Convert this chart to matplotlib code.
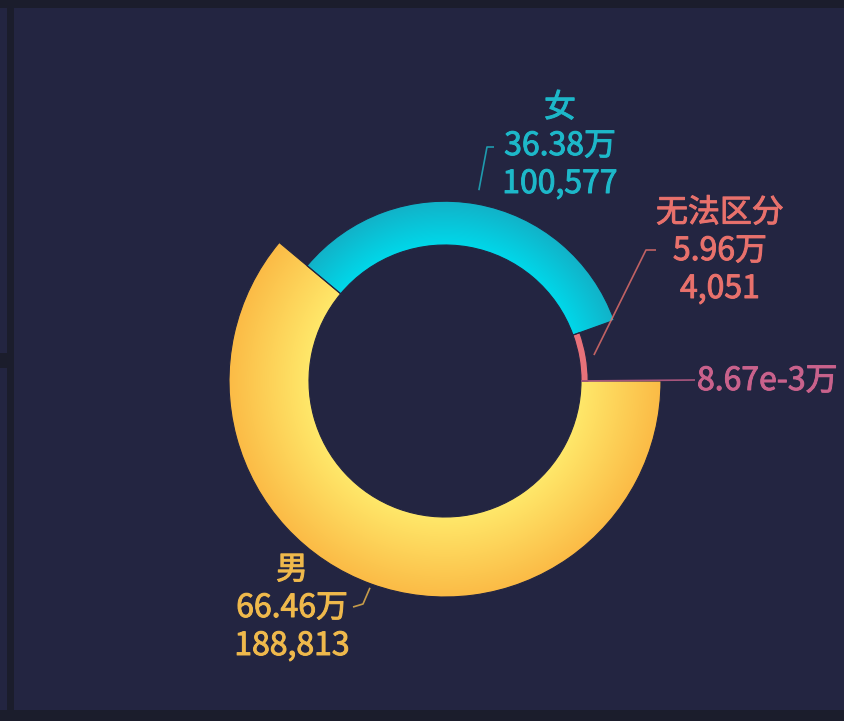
import numpy as np
import matplotlib
matplotlib.use("Agg")
import matplotlib.pyplot as plt
from matplotlib.patches import Wedge, Rectangle
import matplotlib.patheffects as pe

plt.rcParams['font.family'] = ['Noto Sans CJK SC', 'DejaVu Sans']

# ---- data ----
categories = ["", "无法区分", "女", "男"]
values_wan = [8.67e-3, 5.96, 36.38, 66.46]          # 万
counts = [None, 4051, 100577, 188813]
value_labels = ["8.67e-3万", "5.96万", "36.38万", "66.46万"]

# ---- style ----
W, H = 845, 721
bg_outer = "#1b1d2c"
bg_panel = "#232541"
inner_cols = ["#e8727a", "#e8727a", "#00d8ea", "#ffe86a"]
outer_cols = ["#e8727a", "#e8727a", "#12b2c8", "#fbbb46"]
text_cols = ["#c9628c", "#e8716c", "#1db8c9", "#efb94c"]

fig = plt.figure(figsize=(W / 100, H / 100), dpi=100)
fig.patch.set_facecolor(bg_outer)
ax = fig.add_axes([0, 0, 1, 1])
ax.set_xlim(0, W)
ax.set_ylim(0, H)
ax.axis("off")

def Y(py):
    return H - py

# background panels
ax.add_patch(Rectangle((14, Y(710)), W - 14, 702, facecolor=bg_panel, edgecolor="none", zorder=0))
ax.add_patch(Rectangle((0, Y(353)), 7, 353 - 8, facecolor=bg_panel, edgecolor="none", zorder=0))
ax.add_patch(Rectangle((0, Y(710)), 7, 710 - 368, facecolor=bg_panel, edgecolor="none", zorder=0))

cx, cy = 445, Y(381)
r_in, r_max = 136, 216
total = sum(values_wan)
vmax = max(values_wan)

angles = []
a = 0.0
for v in values_wan:
    span = v / total * 360.0
    angles.append((a, a + span))
    a += span

radii = [r_in + (r_max - r_in) * v / vmax for v in values_wan]

def hex2rgb(h):
    h = h.lstrip("#")
    return np.array([int(h[i:i + 2], 16) / 255 for i in (0, 2, 4)])

for i, v in enumerate(values_wan):
    a1, a2 = angles[i]
    R = max(radii[i], r_in + 0.8)
    w = Wedge((cx, cy), R, a1, a2, width=R - r_in, facecolor="none",
              edgecolor="none", zorder=2)
    ax.add_patch(w)
    n = int(2 * R) + 2
    xs = np.linspace(cx - R, cx + R, n)
    ys = np.linspace(cy - R, cy + R, n)
    XX, YY = np.meshgrid(xs, ys)
    rr = np.hypot(XX - cx, YY - cy)
    t = np.clip((rr - r_in) / max(R - r_in, 1e-6), 0, 1)[..., None]
    img = hex2rgb(inner_cols[i]) * (1 - t) + hex2rgb(outer_cols[i]) * t
    im = ax.imshow(img, extent=(cx - R, cx + R, cy - R, cy + R), origin="lower",
                   interpolation="bilinear", zorder=2)
    im.set_clip_path(w)
    ax.add_patch(Wedge((cx, cy), R, a1, a2, width=R - r_in, facecolor="none",
                       edgecolor=bg_panel, linewidth=0.8, zorder=3))

ax.set_xlim(0, W)
ax.set_ylim(0, H)
ax.set_aspect("auto")

fs = 23
# label layout (pixel anchor positions)
label_text_pos = {
    0: (697, 381),
    1: (720, 213),
    2: (560, 108),
    3: (292, 570),
}
leader_end = {
    0: [(695, 380)],
    1: [(646, 250), (656, 250)],
    2: [(487, 147), (494, 147)],
    3: [(363, 604), (353, 607)],
}
leader_start_r = {0: None, 1: 8, 2: 14, 3: 4}

for i in range(len(values_wan)):
    a1, a2 = angles[i]
    mid = np.deg2rad((a1 + a2) / 2)
    col = text_cols[i]
    if i == 0:
        sx, sy = cx + r_in * np.cos(mid), cy + r_in * np.sin(mid)
    else:
        rr = radii[i] + leader_start_r[i]
        sx, sy = cx + rr * np.cos(mid), cy + rr * np.sin(mid)
    pts = [(sx, sy)] + [(px, Y(py)) for px, py in leader_end[i]]
    ax.plot([p[0] for p in pts], [p[1] for p in pts], color=col, lw=1.2,
            alpha=0.8, zorder=5, solid_capstyle="butt")
    tx, ty = label_text_pos[i]
    effects = [pe.withStroke(linewidth=0.7, foreground=col)]
    kw = dict(color=col, fontsize=fs, va="center", zorder=6, path_effects=effects)
    if i == 0:
        ax.text(tx, Y(ty), value_labels[i], ha="left", **kw)
    else:
        ax.text(tx, Y(ty), categories[i], ha="center", **kw)
        ax.text(tx, Y(ty + 38), value_labels[i], ha="center", **kw)
        ax.text(tx, Y(ty + 76), f"{counts[i]:,}", ha="center", **kw)

fig.savefig("out.png", dpi=100, facecolor=fig.get_facecolor())
